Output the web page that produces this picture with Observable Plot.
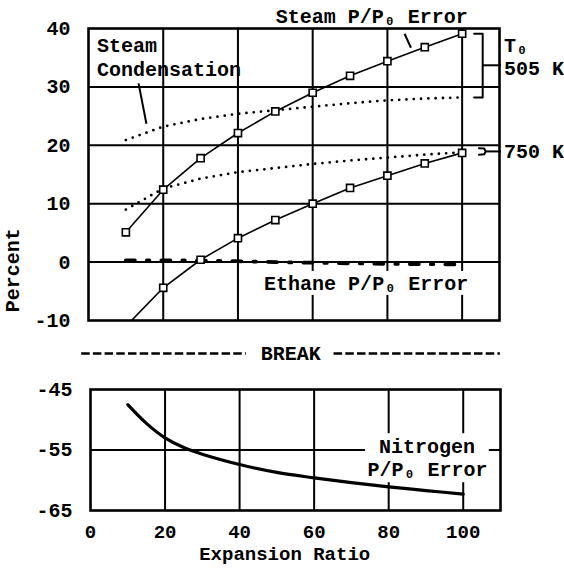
<!DOCTYPE html>
<html>
<head>
<meta charset="utf-8">
<script src="https://cdn.jsdelivr.net/npm/d3@7"></script>
<script src="https://cdn.jsdelivr.net/npm/@observablehq/plot@0.6"></script>
<style>
  html, body { margin: 0; padding: 0; background: white; }
  #chart { position: relative; width: 564px; height: 571px; }
  #topPanel, #bottomPanel { position: absolute; left: 0; }
  #topPanel { top: 0; }
  #bottomPanel { top: 370px; }
</style>
</head>
<body>
<div id="chart"><div id="topPanel"></div><div id="bottomPanel"></div></div>
<script>
// ---- data ----
const ratio = [10, 20, 30, 40, 50, 60, 70, 80, 90, 100];
const steam505 = [5.1, 12.4, 17.8, 22.1, 25.8, 29.0, 31.9, 34.4, 36.8, 39.1];
const steam750 = [-11.0, -4.4, 0.4, 4.1, 7.2, 10.0, 12.7, 14.8, 16.9, 18.7];
const condensation505 = [20.9, 23.2, 24.5, 25.4, 26.0, 26.6, 27.2, 27.7, 28.0, 28.2];
const condensation750 = [9.0, 12.6, 14.3, 15.4, 16.1, 16.8, 17.4, 17.9, 18.4, 18.8];
const ethane = [0.3, 0.3, 0.25, 0.15, 0.0, -0.1, -0.2, -0.3, -0.35, -0.4];
const nitrogenRatio = [10, 15, 20, 25, 30, 40, 50, 60, 70, 80, 90, 100];
const nitrogen = [-47.5, -50.6, -53.0, -54.6, -55.7, -57.4, -58.7, -59.6, -60.4, -61.1, -61.7, -62.3];
const xTicks = [0, 20, 40, 60, 80, 100];
const yTicksTop = [-10, 0, 10, 20, 30, 40];
const yTicksBottom = [-65, -55, -45];

const FONT = "'Liberation Mono', 'Courier New', monospace";
const series = (xs, ys) => xs.map((x, i) => ({x, y: ys[i]}));

const s505 = series(ratio, steam505);
const s750 = series(ratio, steam750);
const c505 = series(ratio, condensation505);
const c750 = series(ratio, condensation750);
const eth = series(ratio, ethane);
const nit = series(nitrogenRatio, nitrogen);

const topLabels = [
  {x: 50.1, y: 42.1, text: "Steam P/P\u2080 Error"},
  {x: 2.3, y: 37.0, text: "Steam"},
  {x: 2.3, y: 33.0, text: "Condensation"},
  {x: 47.0, y: -3.75, text: "Ethane P/P\u2080 Error"},
  {x: 111.2, y: 37.1, text: "T\u2080"},
  {x: 111.2, y: 33.2, text: "505 K"},
  {x: 111.2, y: 18.9, text: "750 K"}
];
const breakLabel = [{x: 54.1, y: -15.65, text: "BREAK"}];
const breakDashes = [
  {x1: -1.96, x2: 42.1, y: -15.65},
  {x1: 65.6, x2: 110.1, y: -15.65}
];
const leaders = [
  {x1: 13.4, y1: 30.6, x2: 15.5, y2: 23.7},
  {x1: 84.6, y1: 39.1, x2: 86.3, y2: 36.7},
  {x1: 105.5, y1: 33.7, x2: 110.4, y2: 33.7},
  {x1: 106.3, y1: 18.95, x2: 110.4, y2: 18.95}
];
const bracket505 = [{x: 103.2, y: 39.1}, {x: 105.5, y: 39.1}, {x: 105.5, y: 28.2}, {x: 103.2, y: 28.2}];
const bracket750 = [{x: 104.5, y: 19.5}, {x: 105.9, y: 19.45}, {x: 106.3, y: 18.95}, {x: 105.9, y: 18.45}, {x: 104.5, y: 18.4}];

const style = {fontFamily: FONT, fontSize: "20px", fontWeight: "bold", background: "white", color: "black", overflow: "visible"};

const topChart = Plot.plot({
  width: 564, height: 370,
  marginLeft: 88, marginRight: 65, marginTop: 28, marginBottom: 50,
  style,
  x: {domain: [0, 110], axis: null},
  y: {domain: [-10, 40], axis: null},
  marks: [
    Plot.ruleX([20, 40, 60, 80, 100], {stroke: "black", strokeWidth: 2}),
    Plot.ruleY([0, 10, 20, 30], {stroke: "black", strokeWidth: 2}),
    Plot.rect([{x1: 45, x2: 103, y1: -1.6, y2: -5.7}], {x1: "x1", x2: "x2", y1: "y1", y2: "y2", fill: "white"}),
    Plot.frame({stroke: "black", strokeWidth: 2.6}),
    Plot.axisY(yTicksTop, {tickSize: 0, tickPadding: 18, tickFormat: d => String(d), fontSize: 20, fontWeight: "bold"}),
    Plot.line(c505, {x: "x", y: "y", stroke: "black", strokeWidth: 2.8, strokeDasharray: "0,7.3", strokeLinecap: "round"}),
    Plot.line(c750, {x: "x", y: "y", stroke: "black", strokeWidth: 2.8, strokeDasharray: "0,7.3", strokeLinecap: "round"}),
    Plot.line(eth, {x: "x", y: "y", stroke: "black", strokeWidth: 3.8, strokeDasharray: "9,12,2.5,12"}),
    Plot.line(s505, {x: "x", y: "y", stroke: "black", strokeWidth: 1.6}),
    Plot.line(s750, {x: "x", y: "y", stroke: "black", strokeWidth: 1.6, clip: true}),
    Plot.dot(s505, {x: "x", y: "y", symbol: "square", r: 4, fill: "white", stroke: "black", strokeWidth: 1.6}),
    Plot.dot(s750.filter(d => d.y >= -10), {x: "x", y: "y", symbol: "square", r: 4, fill: "white", stroke: "black", strokeWidth: 1.6}),
    Plot.link(leaders, {x1: "x1", y1: "y1", x2: "x2", y2: "y2", stroke: "black", strokeWidth: 2}),
    Plot.line(bracket505, {x: "x", y: "y", stroke: "black", strokeWidth: 2}),
    Plot.line(bracket750, {x: "x", y: "y", stroke: "black", strokeWidth: 2}),
    Plot.link(breakDashes, {x1: "x1", x2: "x2", y1: "y", y2: "y", stroke: "black", strokeWidth: 2.4, strokeDasharray: "8.5,3.2"}),
    Plot.text(topLabels, {x: "x", y: "y", text: "text", textAnchor: "start", fontSize: 20, fontWeight: "bold", fill: "black"}),
    Plot.text(breakLabel, {x: "x", y: "y", text: "text", textAnchor: "middle", fontSize: 20, fontWeight: "bold", fill: "black"}),
    Plot.text(["Percent"], {x: () => -20.4, y: () => -1.4, text: d => d, rotate: -90, fontSize: 20, fontWeight: "bold", fill: "black"})
  ]
});
document.getElementById("topPanel").append(topChart);

const bottomLabels = [
  {x: 90.3, y: -54.45, text: "Nitrogen"},
  {x: 90.4, y: -58.3, text: "P/P\u2080 Error"}
];
const axisTitle = [{x: 52.1, y: -72.1, text: "Expansion Ratio"}];

const bottomChart = Plot.plot({
  width: 564, height: 201,
  marginLeft: 90, marginRight: 64, marginTop: 19, marginBottom: 61,
  style,
  x: {domain: [0, 110], axis: null},
  y: {domain: [-65, -45], axis: null},
  marks: [
    Plot.ruleX([20, 40, 60, 80, 100], {stroke: "black", strokeWidth: 2}),
    Plot.ruleY([-55], {stroke: "black", strokeWidth: 2}),
    Plot.rect([{x1: 73.8, x2: 107, y1: -52.3, y2: -60.4}], {x1: "x1", x2: "x2", y1: "y1", y2: "y2", fill: "white"}),
    Plot.frame({stroke: "black", strokeWidth: 2.6}),
    Plot.axisY(yTicksBottom, {tickSize: 0, tickPadding: 18, tickFormat: d => String(d), fontSize: 20, fontWeight: "bold"}),
    Plot.axisX(xTicks, {tickSize: 0, tickPadding: 14, tickFormat: d => String(d), fontSize: 19, fontWeight: "bold", label: null}),
    Plot.line(nit, {x: "x", y: "y", stroke: "black", strokeWidth: 3.2, curve: "catmull-rom"}),
    Plot.text(bottomLabels, {x: "x", y: "y", text: "text", textAnchor: "middle", fontSize: 20, fontWeight: "bold", fill: "black"}),
    Plot.text(axisTitle, {x: "x", y: "y", text: "text", textAnchor: "middle", fontSize: 19, fontWeight: "bold", fill: "black"})
  ]
});
document.getElementById("bottomPanel").append(bottomChart);
</script>
</body>
</html>
